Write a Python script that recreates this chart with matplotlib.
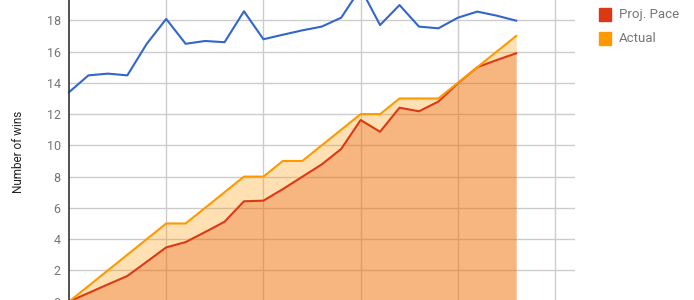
import matplotlib
matplotlib.use("Agg")
import matplotlib.pyplot as plt
from matplotlib.patches import Rectangle
import numpy as np

plt.rcParams['font.family'] = ['Roboto', 'DejaVu Sans']

# games played
games = list(range(24))

# projected season wins (blue, no legend entry)
projected = [13.4, 14.48, 14.59, 14.48, 16.5, 18.09, 16.5, 16.68, 16.6, 18.58,
             16.79, 17.08, 17.36, 17.6, 18.17, 20.05, 17.7, 18.98, 17.6, 17.49,
             18.17, 18.56, 18.3, 17.98]
# projected pace
pace = [0, 0.55, 1.1, 1.64, 2.55, 3.47, 3.81, 4.45, 5.11, 6.42,
        6.46, 7.2, 7.99, 8.78, 9.77, 11.62, 10.87, 12.41, 12.18, 12.8,
        13.97, 15.0, 15.46, 15.89]
# actual wins
actual = [0, 1, 2, 3, 4, 5, 5, 6, 7, 8, 8, 9, 9, 10, 11, 12, 12, 13, 13, 13,
          14, 15, 16, 17]

blue = '#3366cc'
red = '#dc3912'
orange = '#ff9900'

W, H = 694, 300
fig = plt.figure(figsize=(W / 100, H / 100), dpi=100)

# plot area in pixels: x 69..574.5, y=0 at 301.6px from top, 15.625 px per win
px_unit = 15.625
ymax = 20.5
ax = fig.add_axes([69 / W, -1.6 / H, 505.5 / W, ymax * px_unit / H])
ax.set_xlim(0, 26)
ax.set_ylim(0, ymax)

ax.set_axisbelow(True)
ax.set_xticks([5, 10, 15, 20, 25])
ax.set_yticks(range(0, 21, 2))
ax.set_yticklabels([str(v) if v <= 18 else '' for v in range(0, 21, 2)])
ax.grid(True, color='#cccccc', linewidth=1)
ax.tick_params(length=0, labelbottom=False, labelsize=9, labelcolor='#757575', pad=6)
for s in ['top', 'right', 'bottom']:
    ax.spines[s].set_visible(False)
ax.spines['left'].set_color('#333333')
ax.spines['left'].set_linewidth(1.2)

ax.fill_between(games, 0, pace, color=red, alpha=0.3, linewidth=0)
ax.fill_between(games, 0, actual, color=orange, alpha=0.3, linewidth=0)
ax.plot(games, projected, color=blue, linewidth=1.5, clip_on=False)
ax.plot(games, pace, color=red, linewidth=1.5)
ax.plot(games, actual, color=orange, linewidth=1.5)

fig.text(19 / W, 1 - 152 / H, 'Number of wins', rotation=90, ha='center', va='center',
         fontsize=8.5, color='#222222')

# legend
for i, (lab, col) in enumerate([('Proj. Pace', red), ('Actual', orange)]):
    yc = 14.5 + i * 24
    fig.add_artist(Rectangle((599 / W, 1 - (yc + 6) / H), 12 / W, 12 / H,
                             transform=fig.transFigure, color=col))
    fig.text(619 / W, 1 - yc / H, lab, ha='left', va='center', fontsize=9.5,
             color='#757575')

fig.savefig('out.png', dpi=100)
